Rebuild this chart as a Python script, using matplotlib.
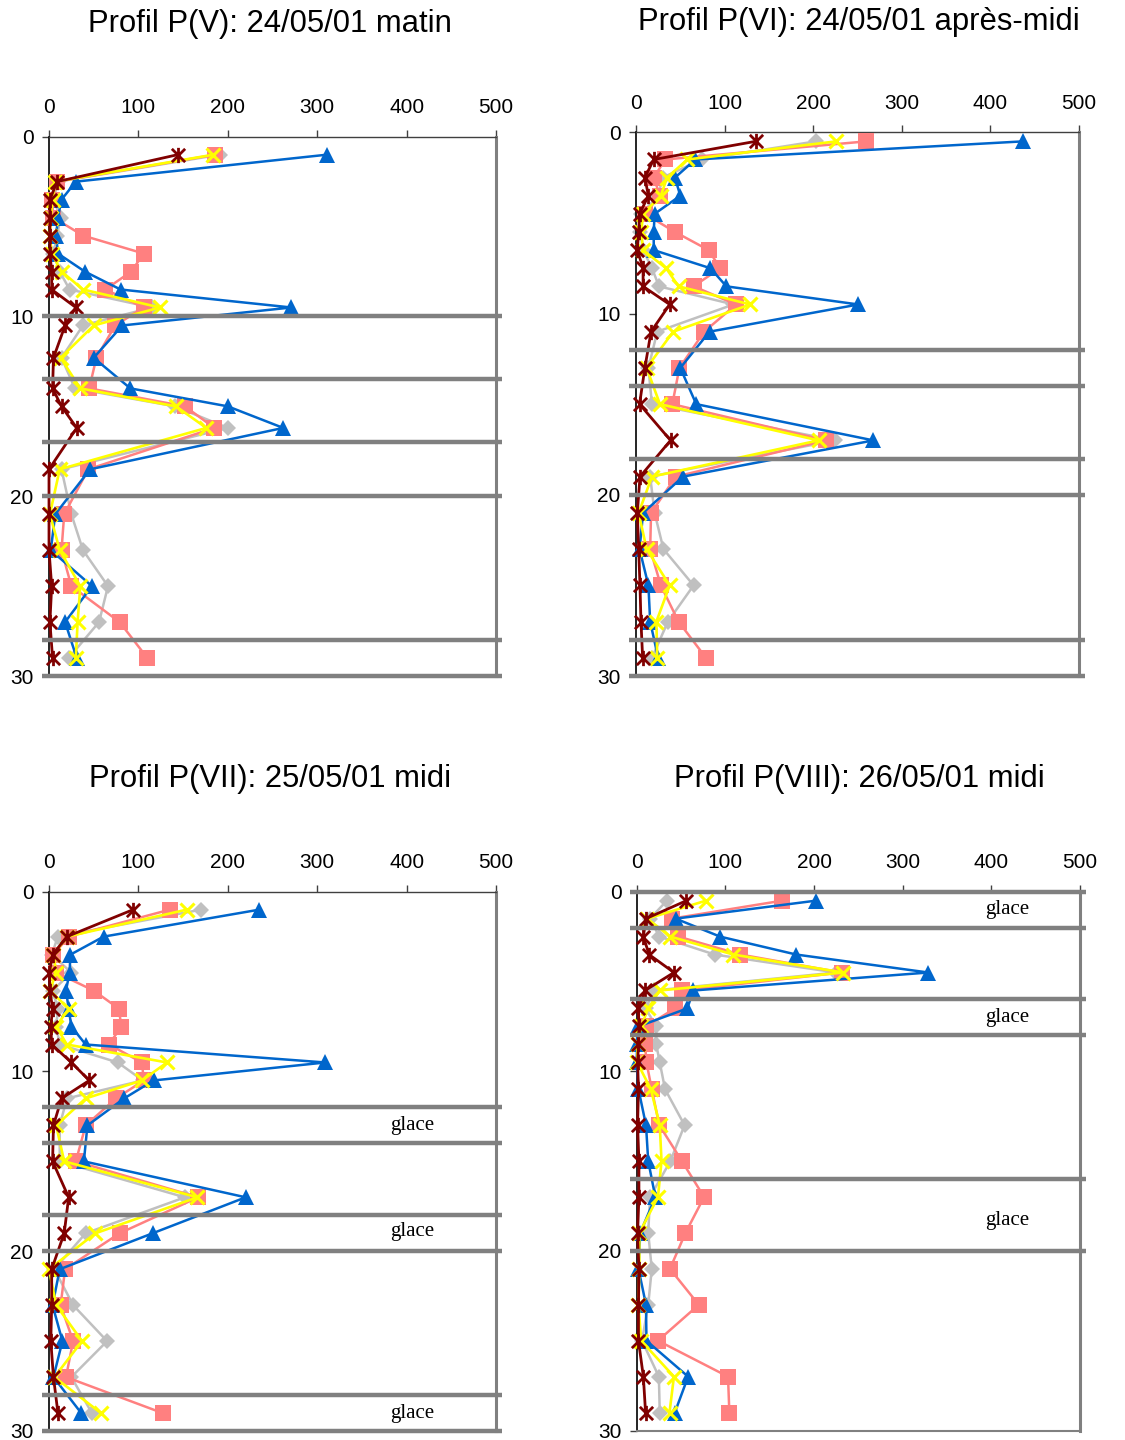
import matplotlib
matplotlib.use('Agg')
import matplotlib.pyplot as plt
from matplotlib.path import Path

plt.rcParams['font.family'] = ['Liberation Sans', 'DejaVu Sans']

# ---------------- data ----------------
titles = ["Profil P(V): 24/05/01 matin",
          "Profil P(VI): 24/05/01 après-midi",
          "Profil P(VII): 25/05/01 midi",
          "Profil P(VIII): 26/05/01 midi"]

# Panel P(V)
depth_V  = [1, 2.5, 3.5, 4.5, 5.5, 6.5, 7.5, 8.5, 9.5, 10.5, 12.3, 14, 15, 16.2, 18.5, 21, 23, 25, 27, 29]
gris_V   = [191, 10, 5, 13, 9, 5, 12, 23, 115, 38, 14, 29, 141, 200, 14, 25, 38, 66, 56, 22]
saumon_V = [186, 9, 3, 5, 38, 106, 92, 63, 106, 74, 53, 45, 152, 185, 44, 17, 14, 25, 79, 110]
bleu_V   = [311, 30, 14, 10, 8, 10, 40, 80, 271, 82, 50, 91, 200, 262, 46, 7, 2, 48, 18, 31]
jaune_V  = [184, 7, 4, 2, 1, 3, 14, 38, 124, 50, 13, 35, 142, 176, 12, 1, 12, 35, 32, 30]
rouge_V  = [144, 9, 1, 1, 1, 1, 3, 3, 30, 18, 5, 4, 14, 31, 0, 0, 0, 3, 1, 4]
glace_V  = [10, 13.5, 17, 20, 28, 30]

# Panel P(VI)
depth_VI  = [0.5, 1.5, 2.5, 3.5, 4.5, 5.5, 6.5, 7.5, 8.5, 9.5, 11, 13, 15, 17, 19, 21, 23, 25, 27, 29]
gris_VI   = [203, 74, 30, 25, 6, 5, 8, 18, 26, 110, 24, 14, 18, 225, 16, 21, 31, 65, 36, 18]
saumon_VI = [260, 33, 20, 27, 10, 44, 82, 95, 65, 113, 77, 49, 41, 214, 45, 17, 16, 28, 48, 79]
bleu_VI   = [437, 67, 44, 50, 21, 20, 20, 84, 102, 251, 83, 50, 68, 268, 53, 8, 4, 14, 16, 25]
jaune_VI  = [226, 58, 35, 28, 8, 6, 8, 34, 48, 129, 42, 12, 27, 206, 18, 3, 12, 38, 23, 24]
rouge_VI  = [135, 20, 10, 14, 4, 3, 1.5, 8, 8, 38, 17, 10, 4, 39, 4.5, 1.5, 3, 4.5, 5.6, 7.5]
glace_VI  = [12, 14, 18, 20, 28, 30]

# Panel P(VII)
depth_VII  = [1, 2.5, 3.5, 4.5, 5.5, 6.5, 7.5, 8.5, 9.5, 10.5, 11.5, 13, 15, 17, 19, 21, 23, 25, 27, 29]
gris_VII   = [170, 10, 3, 25, 4, 10, 8, 12, 77, 105, 20, 12, 12, 152, 41, 6, 27, 65, 25, 48]
saumon_VII = [135, 22, 5, 8, 50, 78, 81, 67, 104, 106, 75, 41, 30, 167, 79, 18, 13, 27, 19, 127]
bleu_VII   = [235, 61, 24, 23, 19, 22, 25, 41, 309, 117, 84, 43, 39, 220, 116, 12, 4, 15, 5, 36]
jaune_VII  = [154, 20, 5, 8, 1, 22, 8, 20, 132, 104, 41, 8, 17, 166, 52, 0, 8, 37, 6, 58]
rouge_VII  = [94, 20, 4, 0.5, 1, 4, 2, 3, 25, 45, 14, 5, 4, 22, 17, 3, 3, 2, 5, 10]
glace_VII  = [12, 14, 18, 20, 28, 30]
glace_txt_VII = [13, 18.9, 29]

# Panel P(VIII)
depth_VIII  = [0.5, 1.5, 2.5, 3.5, 4.5, 5.5, 6.5, 7.5, 8.5, 9.5, 11, 13, 15, 17, 19, 21, 23, 25, 27, 29]
gris_VIII   = [34, 15, 25.5, 88, 225, 20, 10, 22, 22, 26, 32, 54, 38, 15, 13, 17, 13, 6, 25, 26]
saumon_VIII = [164, 39.5, 47, 117, 231, 51, 43, 10.5, 9.4, 11, 17, 25.5, 51, 76, 55, 37.5, 70, 24, 103, 104.5]
bleu_VIII   = [202, 44, 94, 180, 329, 64, 57, 2, 0.5, 0, 2, 10.5, 13, 21, 4, 2, 10.5, 11, 58, 43]
jaune_VIII  = [78, 12, 38, 109, 233, 26, 13, 5, 1, 0.5, 16, 26, 28, 24, 3, 3, 2, 5, 42, 37]
rouge_VIII  = [56, 10.5, 7.5, 14, 42, 9.4, 2, 2.5, 2, 1, 2, 1, 2.5, 2.5, 1, 2.5, 2, 2, 7.5, 10]
glace_VIII  = [0, 2, 6, 8, 16, 20]
glace_txt_VIII = [1, 7, 18.3]

x_ticks = [0, 100, 200, 300, 400, 500]
y_ticks = [0, 10, 20, 30]

# ---------------- styling ----------------
W, H = 1125, 1440
fig = plt.figure(figsize=(W / 100, H / 100), dpi=100)

star = Path([(-1, -1), (1, 1), (-1, 1), (1, -1), (0, -1.15), (0, 1.15)],
            [Path.MOVETO, Path.LINETO, Path.MOVETO, Path.LINETO, Path.MOVETO, Path.LINETO])

series_style = [
    ('gris',   dict(color='#C0C0C0', marker='D', ms=8.5, mew=0, lw=1.8, zorder=2)),
    ('saumon', dict(color='#FF8080', marker='s', ms=11.5, mew=0, lw=1.8, zorder=3)),
    ('bleu',   dict(color='#0066CC', marker='^', ms=12.0, mew=0, lw=1.8, zorder=4)),
    ('jaune',  dict(color='#FFFF00', marker='x', ms=10.5, mew=2.2, lw=1.9, zorder=5)),
    ('rouge',  dict(color='#800000', marker=star, ms=11.0, mew=2.0, lw=2.0, zorder=6)),
]

panels = [
    dict(rect=(49, 136.7, 496, 676), depth=depth_V,
         data=dict(gris=gris_V, saumon=saumon_V, bleu=bleu_V, jaune=jaune_V, rouge=rouge_V),
         glace=glace_V, txt=[], txt_x=406, title_xy=(270, 24)),
    dict(rect=(636, 132.3, 1079, 676), depth=depth_VI,
         data=dict(gris=gris_VI, saumon=saumon_VI, bleu=bleu_VI, jaune=jaune_VI, rouge=rouge_VI),
         glace=glace_VI, txt=[], txt_x=406, title_xy=(859, 22)),
    dict(rect=(49, 891.7, 496, 1431), depth=depth_VII,
         data=dict(gris=gris_VII, saumon=saumon_VII, bleu=bleu_VII, jaune=jaune_VII, rouge=rouge_VII),
         glace=glace_VII, txt=glace_txt_VII, txt_x=406, title_xy=(270, 779)),
    dict(rect=(636.7, 891.7, 1080, 1430.5), depth=depth_VIII,
         data=dict(gris=gris_VIII, saumon=saumon_VIII, bleu=bleu_VIII, jaune=jaune_VIII, rouge=rouge_VIII),
         glace=glace_VIII, txt=glace_txt_VIII, txt_x=418, title_xy=(859, 779)),
]

for p, title in zip(panels, titles):
    l, t, r, b = p['rect']
    ax = fig.add_axes([l / W, 1 - b / H, (r - l) / W, (b - t) / H])
    for name, st in series_style:
        ax.plot(p['data'][name], p['depth'], color=st['color'], marker=st['marker'],
                markersize=st['ms'], markeredgewidth=st['mew'], markeredgecolor=st['color'],
                markerfacecolor=st['color'], lw=st['lw'], zorder=st['zorder'], clip_on=False)
    for d in p['glace']:
        ax.plot([-8, 507], [d, d], color='#808080', lw=3.2, solid_capstyle='butt',
                clip_on=False, zorder=8)
    for d in p['txt']:
        ax.text(p['txt_x'], d, 'glace', ha='center', va='center', fontsize=15,
                family=['Liberation Serif', 'DejaVu Serif'], color='black', zorder=9)
    ax.set_xlim(0, 500)
    ax.set_ylim(30, 0)
    ax.set_xticks(x_ticks)
    ax.set_yticks(y_ticks)
    ax.xaxis.tick_top()
    ax.tick_params(axis='x', direction='out', length=5, width=1, color='#404040',
                   pad=9, labelsize=15, top=True, bottom=False, labeltop=True, labelbottom=False)
    ax.tick_params(axis='y', direction='out', length=5, width=1, color='#404040',
                   pad=6, labelsize=15, left=True, right=False)
    ax.spines['top'].set_color('#404040')
    ax.spines['top'].set_linewidth(1.0)
    ax.spines['left'].set_color('black')
    ax.spines['left'].set_linewidth(1.2)
    ax.spines['right'].set_color('#808080')
    ax.spines['right'].set_linewidth(2.2)
    ax.spines['bottom'].set_color('#808080')
    ax.spines['bottom'].set_linewidth(1.5)
    ax.set_facecolor('white')
    tx, ty = p['title_xy']
    fig.text(tx / W, 1 - ty / H, title, ha='center', va='center', fontsize=22.3)

fig.savefig('out.png', dpi=100, facecolor='white')
